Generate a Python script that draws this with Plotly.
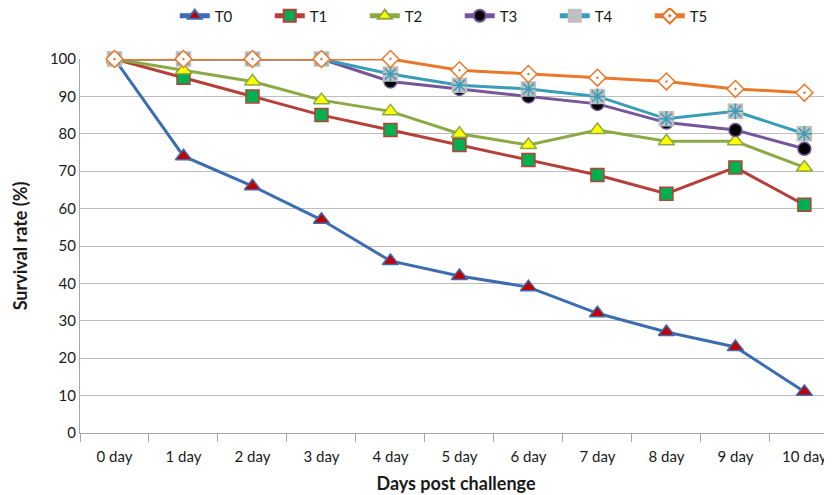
import plotly.graph_objects as go

days = ["0 day", "1 day", "2 day", "3 day", "4 day", "5 day", "6 day", "7 day", "8 day", "9 day", "10 day"]
t0 = [100, 74, 66, 57, 46, 42, 39, 32, 27, 23, 11]
t1 = [100, 95, 90, 85, 81, 77, 73, 69, 64, 71, 61]
t2 = [100, 97, 94, 89, 86, 80, 77, 81, 78, 78, 71]
t3 = [100, 100, 100, 100, 94, 92, 90, 88, 83, 81, 76]
t4 = [100, 100, 100, 100, 96, 93, 92, 90, 84, 86, 80]
t5 = [100, 100, 100, 100, 100, 97, 96, 95, 94, 92, 91]

FONT = "Lato, sans-serif"

fig = go.Figure()

def add(name, y, lc, sym, fill, mline, size=13):
    fig.add_trace(go.Scatter(
        x=days, y=y, name=name, mode="lines+markers",
        line=dict(color=lc, width=3),
        marker=dict(symbol=sym, size=size, color=fill, line=dict(color=mline, width=1.5)),
        cliponaxis=False,
    ))

add("T0", t0, "#3C6DB0", "triangle-up", "#C00000", "#3C6DB0", 14)
add("T1", t1, "#B5403A", "square", "#00B050", "#B5403A", 13)
add("T2", t2, "#8BAA45", "triangle-up", "#FFFF00", "#8BAA45", 14)
add("T3", t3, "#76559A", "circle", "#000000", "#76559A", 13)
add("T4", t4, "#3A9DB8", "square", "#BFBFBF", "#BFBFBF", 14)
fig.add_trace(go.Scatter(
    x=days, y=t4, mode="markers", showlegend=False, hoverinfo="skip",
    marker=dict(symbol="asterisk-open", size=13, color="#3A9DB8", line=dict(color="#3A9DB8", width=1.5)),
    cliponaxis=False,
))
add("T5", t5, "#E8792C", "diamond-dot", "#FFFFFF", "#E8792C", 13)

fig.update_layout(
    width=824, height=487,
    margin=dict(l=72, r=0, t=51, b=62, autoexpand=False),
    paper_bgcolor="white", plot_bgcolor="white",
    font=dict(family=FONT, size=15, color="#1a1a1a"),
    legend=dict(orientation="h", x=0.505, y=1.115, xanchor="center", yanchor="middle",
                entrywidth=50, entrywidthmode="pixels", font=dict(size=15),
                itemsizing="constant", tracegroupgap=0),
    showlegend=True,
)
fig.update_xaxes(
    type="category", range=[-0.5, 10.4],
    showgrid=False, showline=True, linecolor="#A6A6A6", linewidth=1,
    ticks="outside", tickson="boundaries", ticklen=8, tickcolor="#A6A6A6",
    tickfont=dict(size=15), ticklabelstandoff=10,
    title=dict(text="<b>Days post challenge</b>", font=dict(size=18), standoff=13),
)
fig.update_yaxes(
    range=[0, 100], dtick=10, showgrid=True, gridcolor="#BDBDBD", gridwidth=1,
    showline=True, linecolor="#A6A6A6", linewidth=1, zeroline=False,
    ticks="", tickfont=dict(size=15),
    title=dict(text="<b>Survival rate (%)</b>", font=dict(size=18), standoff=17),
)

fig.write_html("out.html")
